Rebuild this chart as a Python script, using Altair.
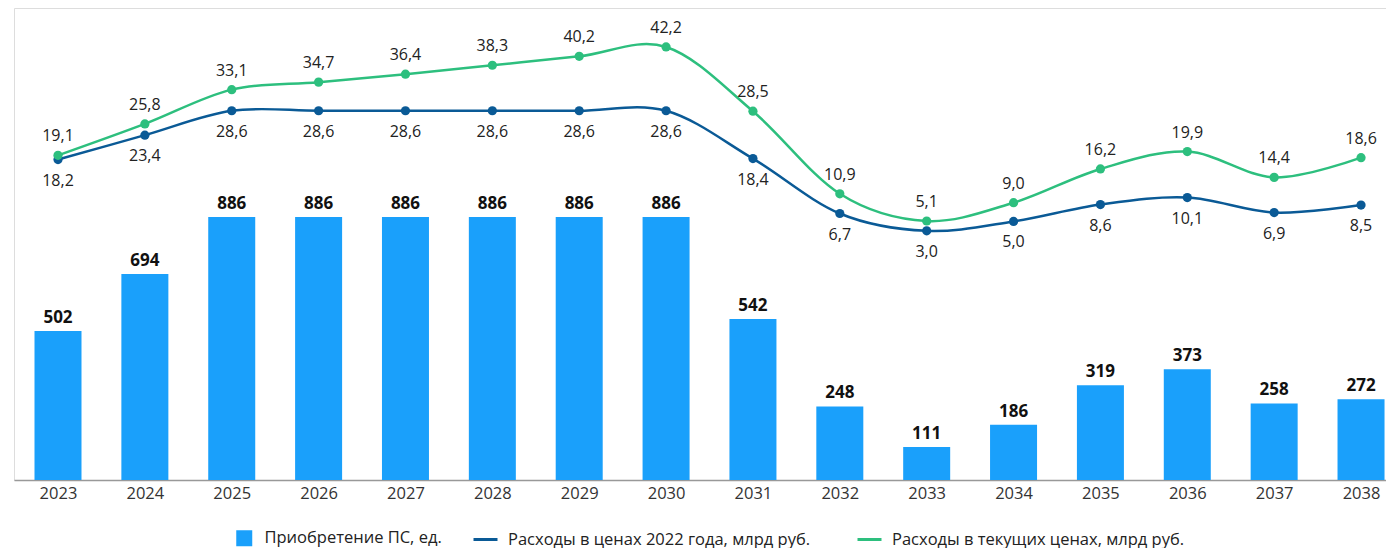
import altair as alt
import pandas as pd

years = list(range(2023, 2039))
purchases = [502, 694, 886, 886, 886, 886, 886, 886, 542, 248, 111, 186, 319, 373, 258, 272]
cost_2022 = [18.2, 23.4, 28.6, 28.6, 28.6, 28.6, 28.6, 28.6, 18.4, 6.7, 3.0, 5.0, 8.6, 10.1, 6.9, 8.5]
cost_current = [19.1, 25.8, 33.1, 34.7, 36.4, 38.3, 40.2, 42.2, 28.5, 10.9, 5.1, 9.0, 16.2, 19.9, 14.4, 18.6]

s_bar = "Приобретение ПС, ед."
s_blue = "Расходы в ценах 2022 года, млрд руб."
s_green = "Расходы в текущих ценах, млрд руб."
bar_color = "#1aa0fb"
line_names = [s_blue, s_green]
line_colors = ["#0a5a96", "#2dbf7e"]

FONT = "Open Sans"

bars_df = pd.DataFrame({"year": years, "value": purchases, "series": s_bar})
lines_df = pd.concat([
    pd.DataFrame({"year": years, "value": cost_2022, "series": s_blue, "pos": "below"}),
    pd.DataFrame({"year": years, "value": cost_current, "series": s_green, "pos": "above"}),
])

x_scale = alt.Scale(domain=[2022.4935, 2038.2875], nice=False, zero=False, padding=0)
x_axis = alt.Axis(values=years, format="d", title=None, grid=False, ticks=False,
                  domainColor="#999999", domainWidth=1.5, labelFont=FONT,
                  labelFontSize=16.5, labelColor="#333333", labelPadding=5,
                  labelFlush=False)

bar_legend = alt.Legend(
    title=None, orient="none", direction="horizontal", legendX=222, legendY=522,
    labelFont=FONT, labelFontSize=16.5, labelColor="#222222", labelLimit=500,
    symbolType="square", symbolSize=256, symbolStrokeWidth=0, labelOffset=12,
)
line_legend = alt.Legend(
    title=None, orient="none", direction="horizontal", legendX=458, legendY=518,
    labelFont=FONT, labelFontSize=16.5, labelColor="#222222", labelLimit=500,
    columnPadding=40,
    symbolType="stroke", symbolSize=576, symbolStrokeWidth=3, labelOffset=9,
)

y_bar = alt.Scale(domain=[0, 1590], nice=False, zero=True)
y_line = alt.Scale(domain=[-50.1, 50.5], nice=False, zero=False)

bars = alt.Chart(bars_df).mark_bar(size=47).encode(
    x=alt.X("year:Q", scale=x_scale, axis=x_axis),
    y=alt.Y("value:Q", scale=y_bar, axis=None),
    fill=alt.Fill("series:N", scale=alt.Scale(domain=[s_bar], range=[bar_color]), legend=bar_legend),
)

bar_labels = alt.Chart(bars_df).mark_text(
    font=FONT, fontSize=17, fontWeight="bold", color="#111111", baseline="bottom", dy=-4
).encode(
    x=alt.X("year:Q", scale=x_scale),
    y=alt.Y("value:Q", scale=y_bar, axis=None),
    text=alt.Text("value:Q", format="d"),
)

bar_layer = alt.layer(bars, bar_labels)

lines = alt.Chart(lines_df).mark_line(interpolate="cardinal", strokeWidth=2.5).encode(
    x=alt.X("year:Q", scale=x_scale),
    y=alt.Y("value:Q", scale=y_line, axis=None),
    stroke=alt.Stroke("series:N", scale=alt.Scale(domain=line_names, range=line_colors), legend=line_legend),
    detail="series:N",
)

points = alt.Chart(lines_df).mark_circle(size=85, opacity=1).encode(
    x=alt.X("year:Q", scale=x_scale),
    y=alt.Y("value:Q", scale=y_line, axis=None),
    color=alt.Color("series:N", scale=alt.Scale(domain=line_names, range=line_colors), legend=None),
)

labels_base = alt.Chart(lines_df).transform_calculate(
    label="replace(format(datum.value, '.1f'), '.', ',')"
)
labels_above = labels_base.transform_filter(alt.datum.pos == "above").mark_text(
    font=FONT, fontSize=16, color="#222222", baseline="middle", dy=-19
).encode(
    x=alt.X("year:Q", scale=x_scale),
    y=alt.Y("value:Q", scale=y_line, axis=None),
    text="label:N",
)
labels_below = labels_base.transform_filter(alt.datum.pos == "below").mark_text(
    font=FONT, fontSize=16, color="#222222", baseline="middle", dy=21
).encode(
    x=alt.X("year:Q", scale=x_scale),
    y=alt.Y("value:Q", scale=y_line, axis=None),
    text="label:N",
)

line_layer = alt.layer(lines, points, labels_above, labels_below)

chart = alt.layer(bar_layer, line_layer).resolve_scale(y="independent").properties(
    width=1372, height=472, padding={"left": 6, "top": 0, "right": 0, "bottom": 0}
).configure_view(stroke=None).configure(font=FONT)

chart.save("out.html", embed_options={"renderer": "svg", "actions": False})
